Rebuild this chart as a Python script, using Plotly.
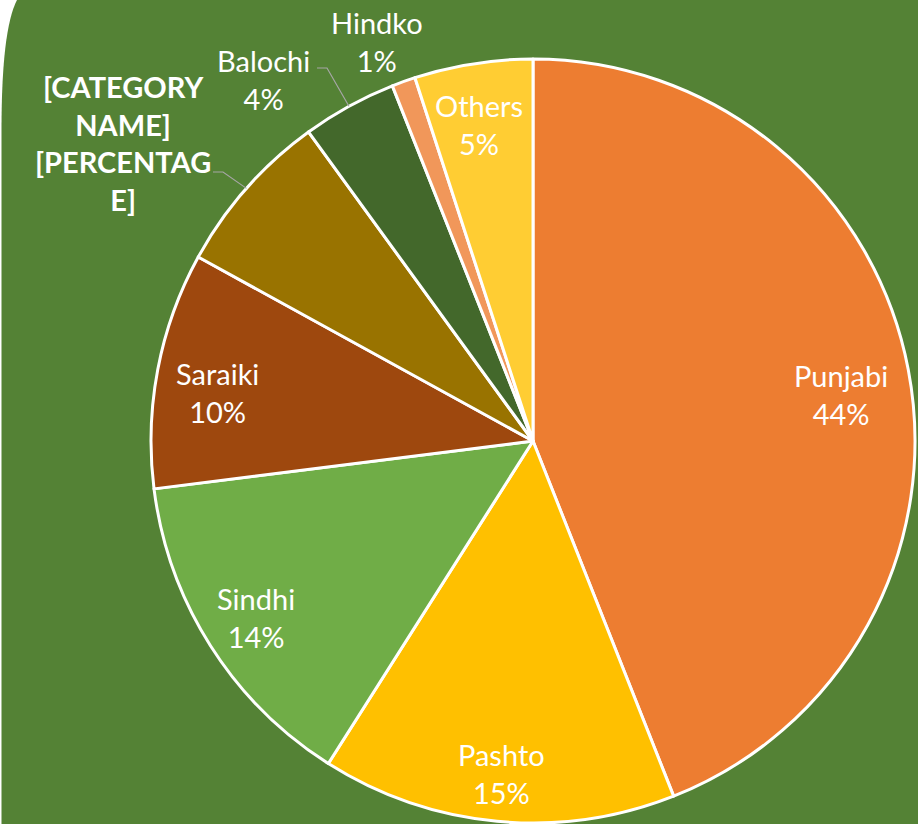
import math
import plotly.graph_objects as go

# ---- data ----
languages = ["Punjabi", "Pashto", "Sindhi", "Saraiki", "Urdu", "Balochi", "Hindko", "Others"]
shares = [44, 15, 14, 10, 7, 4, 1, 5]
slice_colors = ["#ED7D31", "#FFC000", "#70AD47", "#9E480E", "#997300", "#43682B", "#F1975A", "#FFCD33"]

# ---- layout constants (pixels) ----
W, H = 918, 824
CX, CY, R = 533, 441, 382
BG = "#548235"
FONT = "Lato"
FS = 29

def px_x(x):
    return x / W

def px_y(y):
    return 1 - y / H

total = sum(shares)
domain_x = [px_x(CX - R), px_x(CX + R)]
domain_y = [px_y(CY + R), px_y(CY - R)]

fig = go.Figure(go.Pie(
    labels=languages,
    values=shares,
    sort=False,
    direction="clockwise",
    rotation=0,
    marker=dict(colors=slice_colors, line=dict(color="white", width=3)),
    textinfo="none",
    hoverinfo="skip",
    showlegend=False,
    domain=dict(x=domain_x, y=domain_y),
))

# mid-angles (degrees clockwise from 12 o'clock)
mids = []
cum = 0
for v in shares:
    mids.append((cum + v / 2) / total * 360)
    cum += v

def polar(angle_deg, r):
    a = math.radians(angle_deg)
    return CX + r * math.sin(a), CY - r * math.cos(a)

annotations = []
inside_radius = {"Punjabi": 0.82, "Pashto": 0.875, "Sindhi": 0.86, "Saraiki": 0.84, "Others": 0.84}
inside_yshift = {"Punjabi": 12, "Saraiki": 12}
inside_xshift = {"Others": -4}
for lang, v, m in zip(languages, shares, mids):
    pct = f"{v / total * 100:.0f}%"
    if lang in inside_radius:
        x, y = polar(m, inside_radius[lang] * R)
        y += inside_yshift.get(lang, 0)
        x += inside_xshift.get(lang, 0)
        annotations.append(dict(x=px_x(x), y=px_y(y), xref="paper", yref="paper",
                                text=f"{lang}<br>{pct}", showarrow=False,
                                font=dict(family=FONT, size=FS, color="white"),
                                xanchor="center", yanchor="middle", align="center"))

# outside labels (label box positions in px)
outside = {
    "Balochi": (263, 79),
    "Hindko": (377, 42),
}
for lang, (x, y) in outside.items():
    v = shares[languages.index(lang)]
    annotations.append(dict(x=px_x(x), y=px_y(y), xref="paper", yref="paper",
                            text=f"{lang}<br>{v / total * 100:.0f}%", showarrow=False,
                            font=dict(family=FONT, size=FS, color="white"),
                            xanchor="center", yanchor="middle", align="center"))

annotations.append(dict(x=px_x(123), y=px_y(143), xref="paper", yref="paper",
                        text="<b>[CATEGORY<br>NAME]<br>[PERCENTAG<br>E]</b>", showarrow=False,
                        font=dict(family=FONT, size=FS, color="white"),
                        xanchor="center", yanchor="middle", align="center"))

shapes = []
# background with rounded top-left corner
bg_path = (f"M {px_x(1.5)},{px_y(H)} L {px_x(1.5)},{px_y(130)} "
           f"Q {px_x(1.5)},{px_y(30)} {px_x(17)},{px_y(0)} "
           f"L {px_x(W)},{px_y(0)} L {px_x(W)},{px_y(H)} Z")
shapes.append(dict(type="path", xref="paper", yref="paper", path=bg_path,
                   fillcolor=BG, line=dict(width=0), layer="below"))

# leader lines
leaders = {
    "Balochi": [(317, 68), (327, 68)],
    "Urdu": [(213, 172), (223, 172)],
}
for lang, pts in leaders.items():
    ex, ey = polar(mids[languages.index(lang)], R)
    allp = pts + [(ex, ey)]
    path = "M " + " L ".join(f"{px_x(a)},{px_y(b)}" for a, b in allp)
    shapes.append(dict(type="path", xref="paper", yref="paper", path=path,
                       line=dict(color="#A6A6A6", width=1.2), layer="above"))

fig.update_layout(
    width=W, height=H,
    margin=dict(l=0, r=0, t=0, b=0),
    paper_bgcolor="white",
    plot_bgcolor="white",
    shapes=shapes,
    annotations=annotations,
    showlegend=False,
)

fig.write_html("out.html",
               config={"displayModeBar": False},
               post_script="document.body.style.margin='0';document.body.style.overflow='hidden';")
